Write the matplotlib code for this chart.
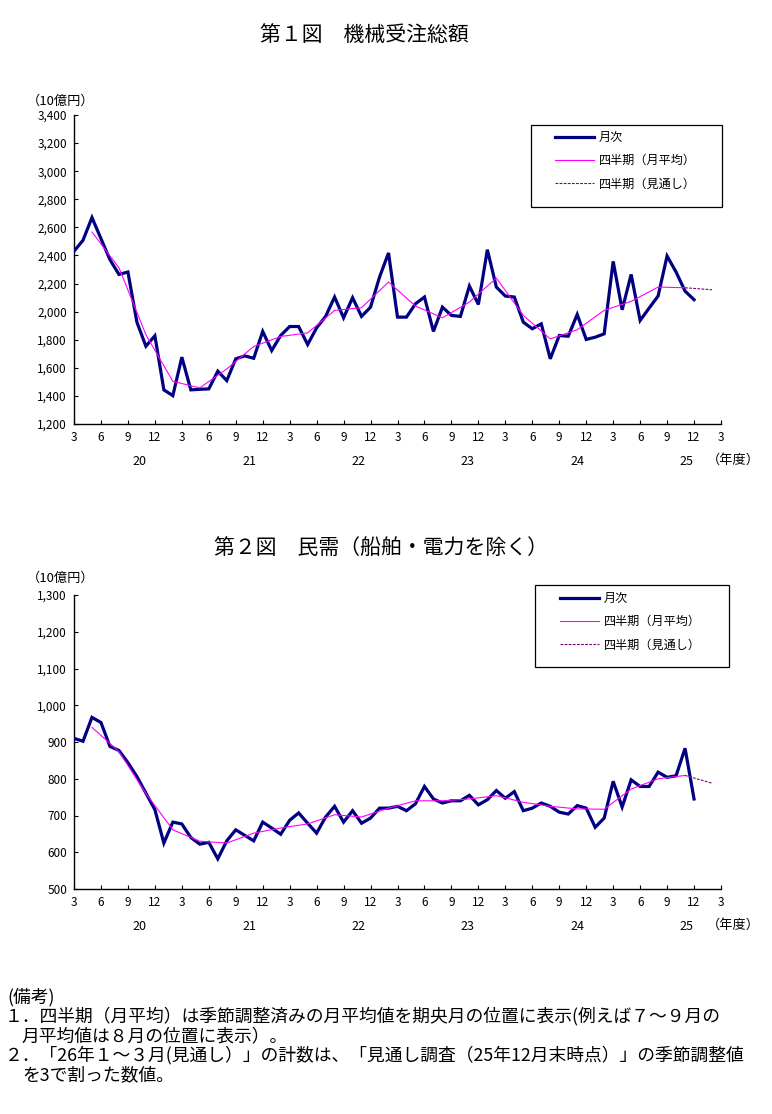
import matplotlib
matplotlib.use("Agg")
import matplotlib.pyplot as plt
from matplotlib.lines import Line2D
from matplotlib.patches import Rectangle
from matplotlib.transforms import blended_transform_factory

plt.rcParams['font.family'] = ['Noto Sans CJK JP', 'DejaVu Sans']

# month index 0 = 2020/3 ... 69 = 2025/12
total_monthly = [2430, 2508, 2670, 2520, 2370, 2265, 2282, 1925, 1754, 1828,
                 1443, 1402, 1676, 1443, 1447, 1450, 1576, 1509, 1664, 1685, 1668, 1859,
                 1723, 1830, 1894, 1894, 1766, 1885, 1966, 2104, 1956, 2099, 1966, 2032,
                 2246, 2418, 1961, 1961, 2056, 2104, 1859, 2032, 1973, 1966, 2182, 2051,
                 2441, 2175, 2111, 2104, 1925, 1878, 1913, 1664, 1830, 1825, 1980, 1802,
                 1818, 1842, 2358, 2013, 2265, 1937, 2025, 2111, 2396, 2282, 2146, 2085]
# quarterly (monthly average) at mid-month of each quarter, 2020/5 ... 2025/11
total_quarterly = [2567, 2313, 1836, 1504, 1457, 1592, 1752, 1823, 1849, 2009, 2028, 2211,
                   2040, 1956, 2068, 2239, 1973, 1806, 1871, 2009, 2073, 2175, 2170]
total_forecast = 2156  # 2026/2

private_monthly = [910, 902, 967, 953, 888, 877, 844, 806, 761, 716,
                   625, 682, 677, 640, 622, 627, 582, 631, 661, 646, 631, 682,
                   666, 649, 687, 707, 679, 652, 696, 725, 682, 713, 679, 693,
                   720, 720, 725, 713, 732, 779, 745, 734, 740, 740, 755, 729,
                   743, 768, 747, 765, 713, 720, 734, 725, 709, 704, 727, 720,
                   668, 693, 793, 723, 797, 779, 779, 818, 804, 808, 883, 745]
private_quarterly = [940, 874, 760, 661, 630, 625, 652, 666, 677, 702, 696, 720,
                     740, 740, 745, 754, 736, 725, 718, 717, 772, 800, 809]
private_forecast = 788

tick_labels = ['3', '6', '9', '12'] * 6 + ['3']
year_labels = ['20', '21', '22', '23', '24', '25']
year_pos = [7.3, 19.5, 31.7, 43.8, 56.0, 68.2]

W, H = 772, 1114
fig = plt.figure(figsize=(W / 100, H / 100), dpi=100)

NAVY = '#000080'
PINK = '#FF00FF'
PURPLE = '#800080'


def panel(ax, monthly, quarterly, forecast, ylim, ystep, box, legend_xy, year_y, unit_y):
    mx = list(range(len(monthly)))
    qx = list(range(2, 2 + 3 * len(quarterly), 3))
    ax.plot(mx, monthly, color=NAVY, lw=2.3, solid_joinstyle='miter', zorder=3)
    ax.plot(qx, quarterly, color=PINK, lw=0.8, zorder=4)
    ax.plot([qx[-1], qx[-1] + 3], [quarterly[-1], forecast], color=PURPLE, lw=0.8,
            ls=(0, (2.5, 1.2)), zorder=4)
    ax.set_xlim(0, 72)
    ax.set_ylim(*ylim)
    ax.set_xticks(range(0, 73, 3))
    ax.set_xticklabels(tick_labels)
    yt = list(range(ylim[0], ylim[1] + 1, ystep))
    ax.set_yticks(yt)
    ax.set_yticklabels([f'{v:,}' for v in yt])
    for s in ['top', 'right']:
        ax.spines[s].set_visible(False)
    for s in ['left', 'bottom']:
        ax.spines[s].set_linewidth(1.0)
    ax.tick_params(direction='in', length=3, width=0.8, labelsize=8.5, pad=5)
    ax.tick_params(axis='x', pad=5)
    tr = blended_transform_factory(ax.transData, fig.transFigure)
    for p, lab in zip(year_pos, year_labels):
        ax.text(p, 1 - year_y / H, lab, transform=tr, ha='center', va='center', fontsize=9)
    fig.text(733 / W, 1 - (year_y - 1) / H, '（年度）', fontsize=9.5, ha='center', va='center')

    # legend box
    x0, y0, x1, y1 = box
    fig.add_artist(Rectangle((x0 / W, 1 - y1 / H), (x1 - x0) / W, (y1 - y0) / H,
                             transform=fig.transFigure, fill=False, ec='black', lw=0.9))
    handles = [Line2D([], [], color=NAVY, lw=2.3),
               Line2D([], [], color=PINK, lw=0.8),
               Line2D([], [], color=PURPLE, lw=0.8, ls=(0, (2.5, 1.2)))]
    labels = ['月次', '四半期（月平均）', '四半期（見通し）']
    fig.legend(handles, labels, loc='upper left',
               bbox_to_anchor=(legend_xy[0] / W, 1 - legend_xy[1] / H),
               bbox_transform=fig.transFigure, frameon=False, fontsize=8.7,
               borderpad=0, borderaxespad=0, handlelength=3.2, handletextpad=0.45,
               labelspacing=0.85)
    fig.text(61 / W, 1 - unit_y / H, '（10億円）', fontsize=9.5, ha='center', va='center')


ax1 = fig.add_axes([74 / W, 1 - 424 / H, 647 / W, 309 / H])
panel(ax1, total_monthly, total_quarterly, total_forecast, (1200, 3400), 200,
      (531, 125, 722, 207), (555, 131), 461, 101)

ax2 = fig.add_axes([74 / W, 1 - 889 / H, 647 / W, 294 / H])
panel(ax2, private_monthly, private_quarterly, private_forecast, (500, 1300), 100,
      (535, 585, 729, 667), (560, 592), 926, 578)

fig.text(364 / W, 1 - 35 / H, '第１図　機械受注総額', fontsize=15, ha='center', va='center')
fig.text(381 / W, 1 - 548 / H, '第２図　民需（船舶・電力を除く）', fontsize=15,
         ha='center', va='center')

notes = [(7, 997, '(備考)'),
         (5, 1016, '１．四半期（月平均）は季節調整済みの月平均値を期央月の位置に表示(例えば７～９月の'),
         (22, 1036, '月平均値は８月の位置に表示）。'),
         (5, 1055, '２．「26年１～３月(見通し）」の計数は、「見通し調査（25年12月末時点）」の季節調整値'),
         (22, 1075, 'を3で割った数値。')]
for x, y, t in notes:
    fig.text(x / W, 1 - y / H, t, fontsize=12.8, ha='left', va='center')

fig.savefig('out.png', dpi=100)
